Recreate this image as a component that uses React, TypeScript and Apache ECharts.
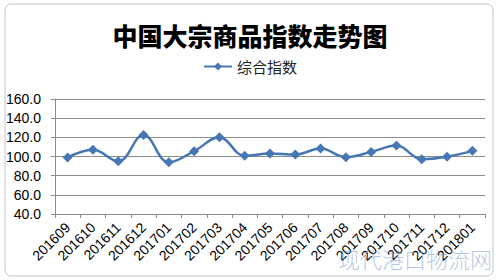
import React, { useEffect, useRef } from "react";
import * as echarts from "echarts";

const categories = [
  "201609", "201610", "201611", "201612", "201701", "201702", "201703", "201704", "201705",
  "201706", "201707", "201708", "201709", "201710", "201711", "201712", "201801",
];
const indexValues = [99, 107, 95, 122.5, 94, 105.6, 120, 100.7, 103.1, 102, 108.3, 99.3, 104.8, 111.4, 97.2, 99.8, 105.9];
const yTicks = { min: 40, max: 160, interval: 20 };
const seriesName = "综合指数";
const titleText = "中国大宗商品指数走势图";
const watermark = "现代港口物流网";

export default function App() {
  const ref = useRef<HTMLDivElement>(null);
  useEffect(() => {
    document.body.style.margin = "0";
    const chart = echarts.init(ref.current!, null, { renderer: "svg" });
    chart.setOption({
      animation: false,
      backgroundColor: "#ffffff",
      title: {
        text: titleText,
        left: "center",
        top: 17,
        textStyle: {
          fontFamily: "Noto Sans CJK SC",
          fontWeight: 900,
          fontSize: 25,
          color: "#000",
        },
      },
      legend: {
        top: 54,
        left: "center",
        itemWidth: 28,
        itemHeight: 10,
        itemGap: 4,
        textStyle: { fontFamily: "Noto Sans CJK SC", fontSize: 15, color: "#222" },
        data: [seriesName],
      },
      grid: { left: 55, right: 15, top: 99, bottom: 66, containLabel: false },
      xAxis: {
        type: "category",
        data: categories,
        boundaryGap: true,
        axisLine: { show: true, lineStyle: { color: "#8a8a8a", width: 1 } },
        axisTick: { show: true, length: 4, lineStyle: { color: "#8a8a8a" } },
        axisLabel: {
          rotate: 45,
          interval: 0,
          fontFamily: "Liberation Sans",
          fontSize: 14,
          color: "#000",
          margin: 11,
        },
      },
      yAxis: {
        type: "value",
        min: yTicks.min,
        max: yTicks.max,
        interval: yTicks.interval,
        axisLine: { show: true, lineStyle: { color: "#8a8a8a", width: 1 } },
        axisTick: { show: true, length: 4, lineStyle: { color: "#8a8a8a" } },
        axisLabel: {
          formatter: (v: number) => v.toFixed(1),
          fontFamily: "Liberation Sans",
          fontSize: 14,
          color: "#000",
          margin: 14,
        },
        splitLine: { show: true, lineStyle: { color: "#8c8c8c", width: 1 } },
      },
      series: [
        {
          name: seriesName,
          type: "line",
          data: indexValues,
          smooth: 0.4,
          symbol: "diamond",
          symbolSize: 10,
          lineStyle: { color: "#4677B5", width: 2.5 },
          itemStyle: { color: "#4677B5" },
        },
      ],
      graphic: [
        {
          type: "rect",
          z: -1,
          shape: { x: 5, y: 4, width: 488, height: 272, r: 6 },
          style: { fill: "none", stroke: "#c4c4c4", lineWidth: 1 },
        },
        {
          type: "text",
          left: 338,
          top: 247,
          z: 100,
          style: {
            text: watermark,
            fontFamily: "Noto Sans CJK SC",
            fontSize: 22,
            fontWeight: 300,
            fill: "rgba(110,150,205,0.55)",
          },
        },
      ],
    });
    return () => chart.dispose();
  }, []);
  return <div ref={ref} style={{ width: 500, height: 280 }} />;
}
